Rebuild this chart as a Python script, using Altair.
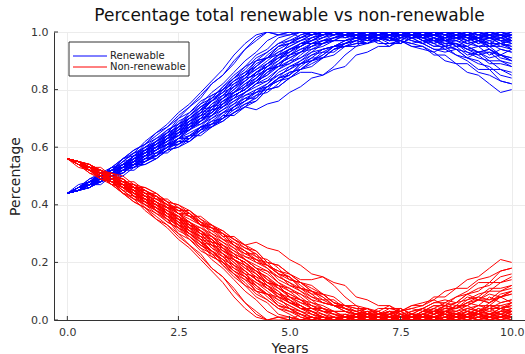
import altair as alt
import pandas as pd

# Quarter-year sampling grid, 0 to 10 years
STEP_YEARS = 0.25
YEARS = [i * STEP_YEARS for i in range(41)]

# Renewable share of the total (in %) for each simulated run
RENEWABLE_RUNS = [
    [44, 46, 49, 50, 53, 56, 59, 61, 64, 67, 70, 74, 78, 82, 85, 90, 94, 98, 100, 99, 99, 100, 100, 98, 100, 99, 100, 100, 99, 97, 99, 100, 98, 99, 100, 100, 99, 98, 100, 99, 98],
    [44, 45, 48, 50, 52, 56, 57, 61, 63, 65, 70, 72, 75, 79, 82, 86, 90, 93, 97, 99, 100, 98, 100, 99, 100, 100, 98, 99, 100, 99, 100, 100, 99, 100, 97, 98, 99, 97, 96, 98, 97],
    [44, 47, 48, 51, 52, 55, 58, 59, 62, 66, 68, 71, 75, 77, 81, 85, 88, 92, 94, 98, 99, 100, 100, 99, 100, 99, 100, 98, 100, 100, 99, 97, 96, 98, 95, 96, 94, 93, 94, 92, 91],
    [44, 46, 47, 50, 51, 54, 57, 58, 62, 64, 67, 70, 73, 78, 80, 84, 87, 91, 93, 96, 98, 100, 99, 100, 100, 98, 99, 100, 99, 100, 100, 99, 98, 100, 97, 99, 100, 99, 100, 98, 99],
    [44, 45, 47, 50, 51, 54, 55, 59, 61, 63, 67, 69, 72, 77, 79, 83, 85, 90, 91, 95, 96, 99, 100, 99, 100, 100, 99, 98, 99, 100, 99, 100, 98, 97, 95, 96, 93, 91, 90, 87, 86],
    [44, 46, 48, 49, 52, 53, 56, 59, 60, 63, 67, 68, 72, 74, 78, 82, 84, 88, 91, 92, 96, 97, 99, 100, 100, 99, 98, 100, 100, 99, 100, 99, 98, 100, 100, 99, 97, 99, 98, 96, 97],
    [44, 45, 47, 50, 51, 53, 57, 58, 60, 64, 65, 68, 72, 73, 77, 80, 84, 85, 89, 92, 93, 96, 98, 99, 100, 99, 98, 97, 99, 97, 98, 99, 97, 95, 96, 96, 94, 95, 92, 94, 93],
    [44, 46, 48, 49, 52, 53, 55, 58, 59, 62, 66, 67, 70, 74, 76, 79, 81, 86, 88, 90, 94, 95, 97, 99, 99, 100, 99, 100, 100, 98, 99, 100, 100, 98, 100, 100, 99, 97, 100, 99, 100],
    [44, 45, 47, 50, 51, 53, 56, 57, 60, 62, 64, 68, 69, 72, 76, 78, 80, 84, 87, 88, 92, 94, 95, 97, 98, 99, 98, 96, 98, 99, 97, 96, 95, 93, 95, 92, 91, 90, 87, 87, 85],
    [44, 45, 48, 48, 50, 53, 54, 56, 59, 61, 63, 67, 68, 71, 75, 77, 79, 82, 86, 88, 89, 92, 95, 96, 97, 99, 99, 97, 97, 99, 98, 100, 99, 97, 97, 95, 97, 98, 95, 95, 96],
    [44, 46, 47, 49, 52, 52, 54, 57, 58, 60, 63, 65, 67, 71, 73, 75, 79, 81, 83, 87, 90, 91, 93, 96, 97, 97, 99, 100, 98, 98, 96, 98, 96, 94, 93, 94, 91, 93, 90, 90, 89],
    [44, 45, 46, 49, 50, 52, 53, 56, 57, 59, 63, 64, 66, 70, 72, 74, 78, 80, 82, 86, 88, 90, 93, 94, 95, 97, 98, 99, 97, 99, 100, 98, 98, 96, 98, 95, 95, 97, 94, 92, 94],
    [44, 45, 47, 48, 50, 51, 54, 55, 57, 60, 61, 63, 67, 68, 71, 74, 76, 80, 81, 84, 88, 89, 91, 94, 95, 95, 97, 96, 98, 98, 96, 98, 99, 97, 99, 100, 98, 98, 99, 97, 97],
    [44, 45, 46, 49, 49, 51, 54, 54, 56, 59, 60, 63, 66, 67, 70, 73, 75, 77, 81, 83, 85, 89, 90, 92, 95, 96, 97, 98, 96, 96, 97, 95, 95, 92, 92, 89, 89, 86, 85, 83, 82],
    [44, 45, 46, 48, 49, 50, 53, 54, 56, 59, 60, 62, 65, 67, 69, 72, 74, 76, 80, 81, 84, 87, 89, 91, 94, 95, 96, 98, 98, 96, 96, 98, 98, 99, 97, 97, 99, 100, 98, 98, 99],
    [44, 45, 47, 49, 50, 52, 55, 56, 59, 63, 65, 69, 73, 74, 77, 81, 83, 86, 89, 91, 93, 96, 96, 98, 100, 100, 99, 100, 99, 99, 100, 100, 98, 100, 99, 100, 100, 98, 100, 99, 99],
    [44, 46, 48, 51, 52, 55, 58, 60, 63, 66, 68, 72, 76, 78, 80, 84, 86, 90, 91, 94, 96, 98, 100, 100, 99, 100, 99, 99, 100, 100, 98, 100, 100, 98, 97, 99, 97, 98, 96, 96, 95],
    [44, 45, 47, 49, 52, 53, 55, 59, 60, 63, 66, 68, 71, 73, 77, 79, 82, 85, 87, 90, 93, 95, 97, 99, 100, 98, 100, 100, 99, 100, 99, 99, 100, 100, 98, 100, 98, 100, 99, 99, 98],
    [44, 45, 48, 49, 50, 53, 55, 58, 59, 61, 65, 66, 69, 73, 74, 77, 81, 83, 85, 89, 91, 93, 96, 97, 97, 97, 98, 100, 100, 98, 99, 100, 99, 99, 100, 98, 98, 96, 98, 97, 94],
    [44, 46, 48, 50, 51, 54, 57, 59, 61, 65, 67, 70, 74, 76, 79, 81, 85, 87, 90, 93, 95, 97, 98, 100, 99, 99, 100, 100, 99, 99, 100, 100, 98, 99, 100, 98, 97, 95, 95, 92, 91],
    [44, 45, 46, 48, 50, 51, 54, 55, 57, 60, 61, 63, 66, 68, 70, 72, 74, 73, 75, 76, 79, 81, 84, 85, 87, 88, 92, 93, 95, 95, 97, 96, 97, 95, 95, 94, 91, 89, 88, 85, 84],
    [44, 45, 47, 48, 50, 52, 54, 57, 58, 60, 63, 66, 68, 70, 73, 76, 78, 79, 81, 83, 84, 86, 86, 85, 88, 92, 95, 96, 97, 95, 98, 97, 96, 94, 94, 92, 90, 87, 87, 83, 82],
    [44, 45, 47, 49, 51, 53, 55, 57, 60, 62, 64, 66, 70, 71, 74, 76, 79, 82, 83, 85, 87, 90, 92, 94, 95, 97, 98, 98, 98, 97, 97, 95, 94, 93, 90, 89, 86, 85, 82, 79, 80],
    [44, 46, 47, 49, 50, 53, 54, 57, 59, 61, 64, 67, 69, 72, 76, 78, 80, 83, 86, 89, 91, 93, 95, 97, 98, 99, 100, 98, 98, 99, 100, 99, 97, 97, 96, 94, 93, 92, 89, 89, 88],
    [44, 46, 48, 51, 53, 56, 58, 62, 65, 68, 72, 75, 79, 83, 87, 92, 96, 99, 100, 100, 100, 100, 99, 100, 100, 99, 100, 100, 100, 98, 100, 100, 99, 100, 100, 100, 99, 100, 100, 100, 100],
    [44, 45, 48, 50, 52, 54, 57, 60, 62, 65, 69, 71, 74, 77, 81, 84, 88, 90, 93, 96, 97, 98, 100, 99, 100, 100, 98, 100, 100, 99, 100, 99, 100, 100, 99, 100, 98, 98, 99, 100, 98],
    [44, 45, 47, 49, 51, 54, 56, 58, 61, 64, 66, 70, 73, 76, 80, 82, 85, 88, 91, 93, 95, 97, 99, 100, 99, 100, 100, 98, 100, 100, 99, 100, 99, 98, 97, 96, 95, 93, 93, 92, 90],
    [44, 46, 47, 50, 52, 54, 56, 59, 61, 64, 68, 70, 72, 76, 78, 81, 84, 87, 89, 92, 94, 96, 97, 99, 100, 100, 98, 98, 99, 100, 100, 99, 100, 99, 98, 99, 100, 99, 98, 97, 96],
    [44, 46, 48, 50, 53, 54, 57, 60, 62, 65, 67, 71, 74, 76, 80, 83, 86, 88, 92, 95, 97, 99, 100, 99, 100, 99, 100, 100, 99, 100, 98, 99, 100, 99, 100, 98, 99, 97, 98, 99, 97],
    [44, 45, 47, 49, 51, 53, 55, 57, 60, 62, 65, 68, 70, 74, 75, 79, 82, 84, 88, 91, 92, 95, 97, 98, 99, 100, 99, 100, 100, 99, 99, 100, 99, 100, 99, 97, 96, 97, 95, 96, 94],
    [44, 46, 47, 49, 51, 54, 55, 58, 60, 62, 65, 67, 70, 72, 75, 78, 80, 83, 85, 88, 90, 93, 94, 96, 98, 98, 99, 99, 100, 100, 99, 98, 100, 99, 98, 98, 96, 95, 96, 94, 93],
    [44, 45, 47, 48, 51, 52, 54, 56, 59, 61, 63, 66, 69, 71, 74, 77, 79, 82, 84, 87, 89, 91, 94, 95, 97, 99, 100, 99, 99, 100, 98, 99, 97, 98, 96, 97, 95, 93, 94, 91, 90],
    [44, 46, 48, 50, 52, 55, 56, 59, 62, 64, 68, 70, 73, 76, 79, 83, 85, 89, 91, 95, 96, 98, 99, 100, 100, 99, 100, 98, 100, 100, 99, 100, 100, 99, 100, 99, 100, 98, 99, 100, 99],
    [44, 45, 47, 50, 51, 53, 56, 57, 60, 63, 64, 67, 71, 72, 75, 79, 81, 84, 87, 89, 92, 94, 96, 97, 99, 100, 99, 100, 100, 100, 99, 98, 100, 100, 97, 98, 99, 98, 97, 98, 96],
    [44, 45, 46, 48, 50, 52, 53, 56, 57, 60, 62, 64, 67, 69, 72, 75, 77, 79, 82, 85, 87, 89, 92, 93, 95, 96, 98, 97, 99, 98, 97, 99, 98, 96, 97, 98, 99, 98, 98, 99, 97],
    [44, 46, 47, 49, 51, 53, 56, 58, 61, 63, 66, 69, 71, 75, 77, 80, 83, 86, 88, 91, 94, 96, 97, 99, 100, 100, 99, 100, 98, 100, 100, 99, 100, 99, 100, 100, 99, 100, 98, 100, 99],
    [44, 46, 47, 47, 50, 52, 52, 55, 58, 58, 61, 64, 64, 67, 71, 71, 74, 78, 79, 82, 86, 87, 90, 91, 94, 95, 95, 98, 97, 99, 100, 99, 98, 99, 97, 98, 96, 97, 95, 96, 95],
    [44, 45, 48, 49, 49, 52, 55, 55, 57, 61, 62, 62, 66, 69, 70, 74, 77, 77, 81, 84, 85, 88, 91, 91, 94, 96, 98, 97, 99, 100, 98, 100, 99, 97, 98, 99, 98, 96, 97, 95, 94],
    [44, 46, 49, 51, 52, 56, 59, 61, 65, 67, 71, 74, 77, 82, 85, 89, 94, 97, 100, 99, 100, 100, 99, 100, 99, 100, 100, 100, 99, 100, 99, 100, 100, 99, 98, 100, 99, 100, 99, 98, 100],
    [44, 45, 47, 48, 51, 51, 54, 57, 57, 60, 63, 63, 67, 68, 72, 73, 76, 79, 80, 84, 86, 87, 90, 93, 93, 96, 97, 96, 98, 98, 97, 99, 97, 96, 94, 95, 92, 93, 91, 92, 90],
    [44, 46, 48, 48, 51, 54, 54, 57, 60, 61, 65, 66, 69, 73, 74, 78, 80, 83, 87, 88, 92, 93, 96, 96, 98, 100, 99, 100, 100, 98, 100, 99, 100, 100, 99, 98, 100, 99, 100, 99, 97],
    [44, 45, 46, 49, 50, 51, 54, 56, 56, 59, 62, 62, 65, 68, 69, 72, 75, 76, 80, 81, 84, 87, 88, 91, 92, 95, 96, 96, 98, 97, 99, 98, 99, 100, 98, 99, 97, 98, 99, 97, 98],
    [44, 46, 47, 50, 53, 53, 56, 60, 61, 63, 67, 69, 71, 75, 78, 79, 83, 86, 88, 92, 94, 95, 98, 99, 100, 98, 99, 100, 100, 99, 100, 98, 99, 100, 100, 99, 98, 97, 98, 96, 97],
    [44, 45, 47, 48, 50, 53, 53, 55, 58, 61, 61, 64, 67, 67, 70, 74, 76, 78, 81, 84, 85, 89, 90, 92, 95, 96, 97, 99, 98, 97, 99, 98, 96, 97, 95, 96, 94, 92, 93, 90, 88],
]

SERIES = ["Renewable", "Non-renewable"]
COLORS = ["#0000ff", "#ff0000"]
X_TICKS = [0, 2.5, 5, 7.5, 10]
Y_TICKS = [0, 0.2, 0.4, 0.6, 0.8, 1.0]
TITLE = "Percentage total renewable vs non-renewable"

FONT = "DejaVu Sans"
PLOT_W, PLOT_H = 471, 288

# Long table: the non-renewable share is the remainder of the total
rows = []
for run, shares in enumerate(RENEWABLE_RUNS):
    for year, pct in zip(YEARS, shares):
        rows.append({"run": run, "year": year, "share": pct / 100, "series": "Renewable"})
        rows.append({"run": run, "year": year, "share": 1 - pct / 100, "series": "Non-renewable"})
df = pd.DataFrame(rows)

x_scale = alt.Scale(domain=[-0.3, 10.3], nice=False, zero=False)
y_scale = alt.Scale(domain=[0, 1], nice=False, zero=False)

x_axis = alt.Axis(values=X_TICKS, format=".1f", title="Years", ticks=False,
                  labelPadding=6, titlePadding=4)
y_axis = alt.Axis(values=Y_TICKS, format=".1f", title="Percentage", ticks=False,
                  labelPadding=6, titlePadding=8)

x_enc = alt.X("year:Q", scale=x_scale, axis=x_axis)
y_enc = alt.Y("share:Q", scale=y_scale, axis=y_axis)
color_scale = alt.Scale(domain=SERIES, range=COLORS)


def run_lines(name):
    return (
        alt.Chart(df)
        .transform_filter(alt.datum.series == name)
        .mark_line(clip=True, strokeWidth=1)
        .encode(x=x_enc, y=y_enc,
                color=alt.Color("series:N", scale=color_scale, legend=None),
                detail="run:N")
    )


# Short inward tick marks on the two axis lines
x_ticks = (
    alt.Chart(pd.DataFrame({"year": X_TICKS}))
    .mark_rule(color="#333", strokeWidth=1)
    .encode(x=x_enc, y=alt.value(PLOT_H), y2=alt.value(PLOT_H - 4))
)
y_ticks = (
    alt.Chart(pd.DataFrame({"share": Y_TICKS}))
    .mark_rule(color="#333", strokeWidth=1)
    .encode(y=y_enc, x=alt.value(0), x2=alt.value(4))
)

# Boxed legend in the upper-left corner of the plot
legend_box = (
    alt.Chart(pd.DataFrame({"series": SERIES[:1]}))
    .mark_rect(fill="white", stroke="#333", strokeWidth=1)
    .encode(x=alt.value(15), x2=alt.value(135), y=alt.value(10), y2=alt.value(44))
)
legend_layers = [legend_box]
for k, name in enumerate(SERIES):
    entry = alt.Chart(pd.DataFrame({"series": [name]}))
    row_y = 24 + 11 * k
    legend_layers.append(
        entry.mark_rule(strokeWidth=1).encode(
            x=alt.value(19), x2=alt.value(53), y=alt.value(row_y),
            color=alt.Color("series:N", scale=color_scale, legend=None),
        )
    )
    legend_layers.append(
        entry.mark_text(align="left", baseline="middle", font=FONT, fontSize=10, color="#222")
        .encode(x=alt.value(56), y=alt.value(row_y), text="series:N")
    )

title_text = (
    alt.Chart(pd.DataFrame({"title": [TITLE]}))
    .mark_text(align="center", baseline="alphabetic", font=FONT, fontSize=17, color="#111")
    .encode(x=alt.value(PLOT_W / 2), y=alt.value(-11), text="title:N")
)

chart = (
    alt.layer(run_lines("Renewable"), run_lines("Non-renewable"), x_ticks, y_ticks,
              *legend_layers, title_text)
    .properties(
        width=PLOT_W,
        height=PLOT_H,
        autosize=alt.AutoSizeParams(type="none"),
        padding={"left": 54, "top": 32, "right": 0, "bottom": 34},
    )
    .configure_view(strokeWidth=0)
    .configure_axis(
        grid=True, gridColor="#ececec", gridWidth=1,
        domainColor="#333", domainWidth=1,
        labelFont=FONT, labelFontSize=11, labelColor="#333",
        titleFont=FONT, titleFontSize=14, titleFontWeight="normal", titleColor="#222",
    )
)

chart.save("out.html", embed_options={"renderer": "svg", "actions": False})
